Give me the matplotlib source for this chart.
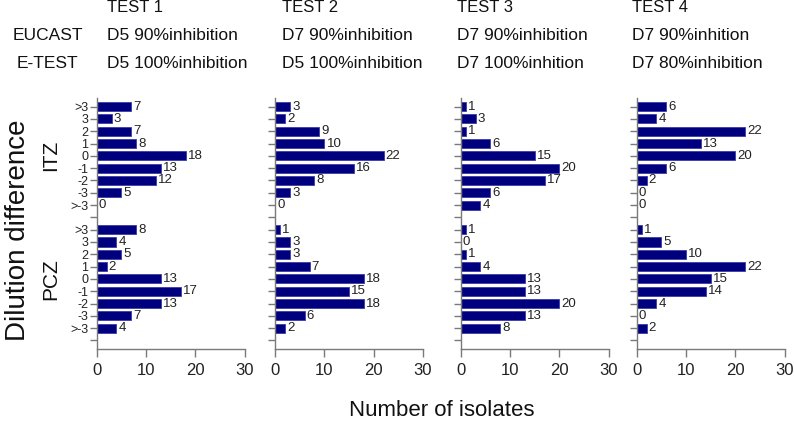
import matplotlib
matplotlib.use("Agg")
import matplotlib.pyplot as plt

plt.rcParams['font.family'] = ['Liberation Sans', 'DejaVu Sans']

categories = [">3", "3", "2", "1", "0", "-1", "-2", "-3", ">-3"]
groups = ["ITZ", "PCZ"]
tests = ["TEST 1", "TEST 2", "TEST 3", "TEST 4"]
eucast = ["D5 90%inhibition", "D7 90%inhibition", "D7 90%inhibition", "D7 90%inhition"]
etest = ["D5 100%inhibition", "D5 100%inhibition", "D7 100%inhition", "D7 80%inhibition"]

itz = [
    [7, 3, 7, 8, 18, 13, 12, 5, 0],
    [3, 2, 9, 10, 22, 16, 8, 3, 0],
    [1, 3, 1, 6, 15, 20, 17, 6, 4],
    [6, 4, 22, 13, 20, 6, 2, 0, 0],
]
pcz = [
    [8, 4, 5, 2, 13, 17, 13, 7, 4],
    [1, 3, 3, 7, 18, 15, 18, 6, 2],
    [1, 0, 1, 4, 13, 13, 20, 13, 8],
    [1, 5, 10, 22, 15, 14, 4, 0, 2],
]
xticks = [0, 10, 20, 30]

W, H = 794, 423
fig = plt.figure(figsize=(W / 100, H / 100), dpi=100)

panel_x0 = [96.7, 275, 460.7, 636.7]
panel_w = 148
ax_bottom_px = 349.3
ax_top_px = 98.0
n = len(categories)
ypos_itz = list(range(n))
ypos_pcz = [n + 1 + i for i in range(n)]
all_ticks = ypos_itz + [n] + ypos_pcz + [2 * n + 1]
all_labels = categories + [""] + categories + [""]

bar_color = "#00007f"
edge_color = "#3a3aa8"
spine_color = "#7a7a7a"

axes = []
for k in range(4):
    ax = fig.add_axes([panel_x0[k] / W, (H - ax_bottom_px) / H,
                       panel_w / W, (ax_bottom_px - ax_top_px) / H])
    axes.append(ax)
    for vals, ys in ((itz[k], ypos_itz), (pcz[k], ypos_pcz)):
        ax.barh(ys, vals, height=0.74, color=bar_color, edgecolor=edge_color, linewidth=0.6)
        for y, v in zip(ys, vals):
            ax.text(v + 0.45, y, str(v), va="center", ha="left", fontsize=9.5, color="#222222")
    ax.set_xlim(0, 30)
    ax.set_ylim(2 * n + 1 + 0.72, -0.7)
    ax.set_xticks(xticks)
    ax.set_xticklabels([str(t) for t in xticks], fontsize=12, color="#222222")
    ax.set_yticks(all_ticks)
    if k == 0:
        ax.set_yticklabels(all_labels, fontsize=9, color="#222222")
    else:
        ax.set_yticklabels([])
    for s in ("top", "right"):
        ax.spines[s].set_visible(False)
    for s in ("left", "bottom"):
        ax.spines[s].set_color(spine_color)
        ax.spines[s].set_linewidth(1.0)
    ax.tick_params(axis="y", length=5, width=1.0, color=spine_color, pad=1)
    ax.tick_params(axis="x", length=6, width=1.0, color=spine_color, pad=4)

# headers
header_x = [107, 282, 457, 632]
for k in range(4):
    fig.text(header_x[k] / W, 1 - 8 / H, tests[k], fontsize=12, va="center", ha="left", color="#111111")
    fig.text(header_x[k] / W, 1 - 35 / H, eucast[k], fontsize=12.5, va="center", ha="left", color="#111111")
    fig.text(header_x[k] / W, 1 - 63 / H, etest[k], fontsize=12.5, va="center", ha="left", color="#111111")
fig.text(13 / W, 1 - 35 / H, "EUCAST", fontsize=12.5, va="center", ha="left", color="#111111")
fig.text(17 / W, 1 - 63 / H, "E-TEST", fontsize=12.5, va="center", ha="left", color="#111111")

# group labels
ax0 = axes[0]
ax0.text(-0.31, 4, groups[0], transform=ax0.get_yaxis_transform(), rotation=90,
         ha="center", va="center", fontsize=15, color="#111111")
ax0.text(-0.31, n + 1 + 4, groups[1], transform=ax0.get_yaxis_transform(), rotation=90,
         ha="center", va="center", fontsize=15, color="#111111")
fig.text(18 / W, 1 - 230 / H, "Dilution difference", rotation=90, ha="center", va="center",
         fontsize=20, color="#111111")
fig.text(442 / W, 1 - 410 / H, "Number of isolates", ha="center", va="center",
         fontsize=16, color="#111111")

fig.savefig("out.png", dpi=100)
